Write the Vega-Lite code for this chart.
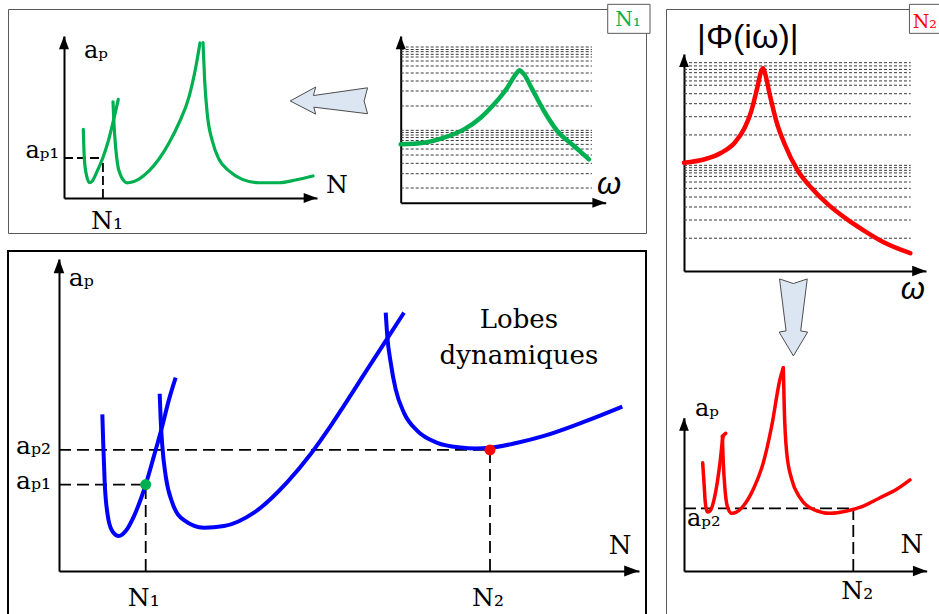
{
"$schema": "https://vega.github.io/schema/vega-lite/v6.json",
"padding": {"left": 7, "top": 1, "right": 0, "bottom": 0},
"background": "white",
"spacing": 12,
"config": {"view": {"stroke": null}},
"datasets": {
"green_lobes_small": [
{"lobe":1,"N":0.763,"ap":4.24},{"lobe":1,"N":0.802,"ap":2.49},{"lobe":1,"N":0.881,"ap":1.46},{"lobe":1,"N":1.016,"ap":0.94},{"lobe":1,"N":1.119,"ap":1.05},{"lobe":1,"N":1.316,"ap":1.67},{"lobe":1,"N":1.514,"ap":2.39},{"lobe":1,"N":1.751,"ap":3.52},{"lobe":1,"N":1.949,"ap":4.75},{"lobe":1,"N":2.146,"ap":6.09},
{"lobe":2,"N":1.937,"ap":5.94},{"lobe":2,"N":1.976,"ap":4.57},{"lobe":2,"N":2.036,"ap":3.21},{"lobe":2,"N":2.115,"ap":2.10},{"lobe":2,"N":2.233,"ap":1.42},{"lobe":2,"N":2.372,"ap":1.05},{"lobe":2,"N":2.490,"ap":0.93},{"lobe":2,"N":2.609,"ap":0.96},{"lobe":2,"N":2.964,"ap":1.17},{"lobe":2,"N":3.360,"ap":1.67},{"lobe":2,"N":3.755,"ap":2.41},{"lobe":2,"N":4.150,"ap":3.40},{"lobe":2,"N":4.545,"ap":4.63},{"lobe":2,"N":4.941,"ap":6.24},{"lobe":2,"N":5.217,"ap":8.15},{"lobe":2,"N":5.375,"ap":9.57},
{"lobe":3,"N":5.494,"ap":9.59},{"lobe":3,"N":5.561,"ap":7.22},{"lobe":3,"N":5.664,"ap":5.17},{"lobe":3,"N":5.862,"ap":3.52},{"lobe":3,"N":6.126,"ap":2.39},{"lobe":3,"N":6.522,"ap":1.67},{"lobe":3,"N":7.047,"ap":1.15},{"lobe":3,"N":7.708,"ap":0.94},{"lobe":3,"N":8.498,"ap":0.94},{"lobe":3,"N":9.158,"ap":1.11},{"lobe":3,"N":9.842,"ap":1.36}
],
"small_op": [{"N":1.54,"ap":2.47,"base":0}],
"green_frf": [{"omega":0,"mag":3.50},{"omega":1.137,"mag":3.60},{"omega":2.112,"mag":3.90},{"omega":3.088,"mag":4.40},{"omega":3.902,"mag":5.10},{"omega":4.551,"mag":5.90},{"omega":5.200,"mag":6.90},{"omega":5.610,"mag":7.70},{"omega":5.785,"mag":7.94},{"omega":6.015,"mag":7.70},{"omega":6.420,"mag":6.80},{"omega":6.990,"mag":5.50},{"omega":7.639,"mag":4.30},{"omega":8.454,"mag":3.40},{"omega":9.185,"mag":2.60}],
"green_levels": [{"mag":9.34,"from":0,"to":9.33},{"mag":9.19,"from":0,"to":9.33},{"mag":9.06,"from":0,"to":9.33},{"mag":8.90,"from":0,"to":9.33},{"mag":8.74,"from":0,"to":9.33},{"mag":8.50,"from":0,"to":9.33},{"mag":8.20,"from":0,"to":9.33},{"mag":7.78,"from":0,"to":9.33},{"mag":7.30,"from":0,"to":9.33},{"mag":6.70,"from":0,"to":9.33},{"mag":5.80,"from":0,"to":9.33},{"mag":4.34,"from":0,"to":9.33},{"mag":4.21,"from":0,"to":9.33},{"mag":4.06,"from":0,"to":9.33},{"mag":3.91,"from":0,"to":9.33},{"mag":3.73,"from":0,"to":9.33},{"mag":3.50,"from":0,"to":9.33},{"mag":3.22,"from":0,"to":9.33},{"mag":2.86,"from":0,"to":9.33},{"mag":2.36,"from":0,"to":9.33},{"mag":1.74,"from":0,"to":9.33},{"mag":0.88,"from":0,"to":9.33}],
"blue_lobes": [
{"lobe":1,"N":0.747,"ap":5.02},{"lobe":1,"N":0.764,"ap":4.01},{"lobe":1,"N":0.788,"ap":2.83},{"lobe":1,"N":0.833,"ap":1.87},{"lobe":1,"N":0.919,"ap":1.28},{"lobe":1,"N":1.034,"ap":1.12},{"lobe":1,"N":1.150,"ap":1.28},{"lobe":1,"N":1.293,"ap":1.76},{"lobe":1,"N":1.409,"ap":2.30},{"lobe":1,"N":1.495,"ap":2.77},{"lobe":1,"N":1.638,"ap":3.69},{"lobe":1,"N":1.781,"ap":4.65},{"lobe":1,"N":1.897,"ap":5.50},{"lobe":1,"N":2.012,"ap":6.20},
{"lobe":2,"N":1.736,"ap":5.68},{"lobe":2,"N":1.753,"ap":4.86},{"lobe":2,"N":1.781,"ap":4.01},{"lobe":2,"N":1.840,"ap":3.04},{"lobe":2,"N":1.953,"ap":2.19},{"lobe":2,"N":2.155,"ap":1.63},{"lobe":2,"N":2.500,"ap":1.39},{"lobe":2,"N":2.845,"ap":1.44},{"lobe":2,"N":3.362,"ap":1.87},{"lobe":2,"N":3.936,"ap":2.85},{"lobe":2,"N":4.340,"ap":3.75},{"lobe":2,"N":4.684,"ap":4.65},{"lobe":2,"N":4.914,"ap":5.30},{"lobe":2,"N":5.259,"ap":6.30},{"lobe":2,"N":5.603,"ap":7.29},{"lobe":2,"N":5.948,"ap":8.28},
{"lobe":3,"N":5.633,"ap":8.28},{"lobe":3,"N":5.660,"ap":7.53},{"lobe":3,"N":5.719,"ap":6.68},{"lobe":3,"N":5.805,"ap":5.82},{"lobe":3,"N":5.948,"ap":5.07},{"lobe":3,"N":6.178,"ap":4.49},{"lobe":3,"N":6.522,"ap":4.11},{"lobe":3,"N":6.926,"ap":3.96},{"lobe":3,"N":7.180,"ap":3.93},{"lobe":3,"N":7.431,"ap":3.95},{"lobe":3,"N":7.902,"ap":4.11},{"lobe":3,"N":8.362,"ap":4.33},{"lobe":3,"N":8.936,"ap":4.70},{"lobe":3,"N":9.712,"ap":5.27}
],
"blue_op": [{"case":"N1","N":1.495,"ap":2.77,"base":0,"ylab":"aₚ₁","xlab":"N₁"},{"case":"N2","N":7.431,"ap":3.88,"base":0,"ylab":"aₚ₂","xlab":"N₂"}],
"red_frf": [{"omega":0,"mag":4.99},{"omega":0.855,"mag":5.15},{"omega":1.541,"mag":5.45},{"omega":2.095,"mag":5.91},{"omega":2.508,"mag":6.60},{"omega":2.781,"mag":7.37},{"omega":3.029,"mag":8.45},{"omega":3.194,"mag":9.22},{"omega":3.264,"mag":9.34},{"omega":3.360,"mag":9.06},{"omega":3.541,"mag":8.14},{"omega":3.814,"mag":6.91},{"omega":4.161,"mag":5.84},{"omega":4.711,"mag":4.61},{"omega":5.260,"mag":3.84},{"omega":5.950,"mag":3.07},{"omega":6.640,"mag":2.46},{"omega":7.467,"mag":1.84},{"omega":8.293,"mag":1.30},{"omega":9.351,"mag":0.82}],
"red_levels": [{"mag":9.60,"from":0,"to":9.37},{"mag":9.45,"from":0,"to":9.37},{"mag":9.29,"from":0,"to":9.37},{"mag":9.14,"from":0,"to":9.37},{"mag":8.94,"from":0,"to":9.37},{"mag":8.76,"from":0,"to":9.37},{"mag":8.56,"from":0,"to":9.37},{"mag":8.17,"from":0,"to":9.37},{"mag":7.71,"from":0,"to":9.37},{"mag":7.11,"from":0,"to":9.37},{"mag":6.27,"from":0,"to":9.37},{"mag":4.87,"from":0,"to":9.37},{"mag":4.76,"from":0,"to":9.37},{"mag":4.64,"from":0,"to":9.37},{"mag":4.52,"from":0,"to":9.37},{"mag":4.36,"from":0,"to":9.37},{"mag":4.10,"from":0,"to":9.37},{"mag":3.81,"from":0,"to":9.37},{"mag":3.41,"from":0,"to":9.37},{"mag":2.95,"from":0,"to":9.37},{"mag":2.35,"from":0,"to":9.37},{"mag":1.51,"from":0,"to":9.37}],
"red_lobes": [
{"lobe":1,"N":0.770,"ap":7.06},{"lobe":1,"N":0.824,"ap":5.76},{"lobe":1,"N":0.878,"ap":4.46},{"lobe":1,"N":0.960,"ap":3.85},{"lobe":1,"N":1.071,"ap":3.91},{"lobe":1,"N":1.207,"ap":4.46},{"lobe":1,"N":1.347,"ap":5.54},{"lobe":1,"N":1.483,"ap":7.06},{"lobe":1,"N":1.619,"ap":8.81},{"lobe":1,"N":1.718,"ap":8.98},
{"lobe":2,"N":1.578,"ap":8.81},{"lobe":2,"N":1.619,"ap":7.06},{"lobe":2,"N":1.689,"ap":5.33},{"lobe":2,"N":1.801,"ap":4.13},{"lobe":2,"N":1.965,"ap":3.76},{"lobe":2,"N":2.171,"ap":3.85},{"lobe":2,"N":2.443,"ap":4.24},{"lobe":2,"N":2.855,"ap":5.33},{"lobe":2,"N":3.267,"ap":7.06},{"lobe":2,"N":3.614,"ap":9.46},{"lobe":2,"N":3.955,"ap":12.51},{"lobe":2,"N":4.091,"ap":13.26},
{"lobe":3,"N":4.092,"ap":13.26},{"lobe":3,"N":4.133,"ap":10.55},{"lobe":3,"N":4.232,"ap":7.72},{"lobe":3,"N":4.438,"ap":5.98},{"lobe":3,"N":4.780,"ap":4.78},{"lobe":3,"N":5.328,"ap":4.02},{"lobe":3,"N":6.016,"ap":3.76},{"lobe":3,"N":6.704,"ap":3.91},{"lobe":3,"N":7.388,"ap":4.24},{"lobe":3,"N":8.076,"ap":4.78},{"lobe":3,"N":8.764,"ap":5.33},{"lobe":3,"N":9.312,"ap":5.94}
],
"red_op": [{"N":6.976,"ap":4.09,"base":0}]
},
"hconcat": [
{
"vconcat": [
{
"width": 638, "height": 224,
"view": {"stroke": "#595959", "strokeWidth": 1},
"resolve": {"scale": {"x": "independent", "y": "independent"}},
"layer": [
{"data": {"name": "small_op"}, "mark": {"type": "rule", "color": "black", "strokeWidth": 1.8, "strokeDash": [9, 4]},
 "encoding": {"x": {"field": "base", "type": "quantitative", "scale": {"domain":[0,10],"range":[56,309],"nice":false,"zero":false}, "axis": null}, "x2": {"field": "N"}, "y": {"field": "ap", "type": "quantitative", "scale": {"domain":[0,10],"range":[189,27],"nice":false,"zero":false}, "axis": null}}},
{"data": {"name": "small_op"}, "mark": {"type": "rule", "color": "black", "strokeWidth": 1.8, "strokeDash": [9, 4]},
 "encoding": {"x": {"field": "N", "type": "quantitative", "scale": {"domain":[0,10],"range":[56,309],"nice":false,"zero":false}, "axis": null}, "y": {"field": "base", "type": "quantitative", "scale": {"domain":[0,10],"range":[189,27],"nice":false,"zero":false}, "axis": null}, "y2": {"field": "ap"}}},
{"data": {"name": "green_lobes_small"}, "mark": {"type": "line", "interpolate": "monotone", "color": "#00b050", "strokeWidth": 3.2, "strokeCap": "round"},
 "encoding": {"x": {"field": "N", "type": "quantitative", "scale": {"domain":[0,10],"range":[56,309],"nice":false,"zero":false}, "axis": {"orient": "bottom", "offset": -35, "domain": true, "domainColor": "black", "domainWidth": 2, "ticks": false, "labels": false, "grid": false, "title": null}}, "y": {"field": "ap", "type": "quantitative", "scale": {"domain":[0,10],"range":[189,27],"nice":false,"zero":false}, "axis": {"orient": "left", "offset": -56, "domain": true, "domainColor": "black", "domainWidth": 2, "ticks": false, "labels": false, "grid": false, "title": null}}, "detail": {"field": "lobe", "type": "nominal"}}},
{"data": {"values": [{}]}, "mark": {"type": "point", "shape": "M0,0L-2,-0.75L-2,0.75Z", "filled": true, "fill": "black", "strokeWidth": 0, "opacity": 1, "size": 178},
 "encoding": {"x": {"datum": 10, "type": "quantitative", "scale": {"domain":[0,10],"range":[56,309],"nice":false,"zero":false}, "axis": null}, "y": {"datum": 0, "type": "quantitative", "scale": {"domain":[0,10],"range":[189,27],"nice":false,"zero":false}, "axis": null}}},
{"data": {"values": [{}]}, "mark": {"type": "point", "shape": "M0,0L-0.75,2L0.75,2Z", "filled": true, "fill": "black", "strokeWidth": 0, "opacity": 1, "size": 178},
 "encoding": {"x": {"datum": 0, "type": "quantitative", "scale": {"domain":[0,10],"range":[56,309],"nice":false,"zero":false}, "axis": null}, "y": {"datum": 10, "type": "quantitative", "scale": {"domain":[0,10],"range":[189,27],"nice":false,"zero":false}, "axis": null}}},
{"data": {"values": [{}]}, "mark": {"type": "text", "text": "aₚ", "font": "DejaVu Serif", "fontSize": 24, "align": "left", "baseline": "alphabetic", "color": "black"},
 "encoding": {"x": {"datum": 0.79, "type": "quantitative", "scale": {"domain":[0,10],"range":[56,309],"nice":false,"zero":false}, "axis": null}, "y": {"datum": 8.64, "type": "quantitative", "scale": {"domain":[0,10],"range":[189,27],"nice":false,"zero":false}, "axis": null}}},
{"data": {"name": "small_op"}, "mark": {"type": "text", "text": "aₚ₁", "font": "DejaVu Serif", "fontSize": 24, "align": "right", "baseline": "alphabetic", "dx": -5, "color": "black"},
 "encoding": {"x": {"field": "base", "type": "quantitative", "scale": {"domain":[0,10],"range":[56,309],"nice":false,"zero":false}, "axis": null}, "y": {"field": "ap", "type": "quantitative", "scale": {"domain":[0,10],"range":[189,27],"nice":false,"zero":false}, "axis": null}}},
{"data": {"name": "small_op"}, "mark": {"type": "text", "text": "N₁", "font": "DejaVu Serif", "fontSize": 25, "align": "center", "baseline": "alphabetic", "dx": 4, "dy": 31, "color": "black"},
 "encoding": {"x": {"field": "N", "type": "quantitative", "scale": {"domain":[0,10],"range":[56,309],"nice":false,"zero":false}, "axis": null}, "y": {"field": "base", "type": "quantitative", "scale": {"domain":[0,10],"range":[189,27],"nice":false,"zero":false}, "axis": null}}},
{"data": {"values": [{}]}, "mark": {"type": "text", "text": "N", "font": "DejaVu Serif", "fontSize": 25, "align": "left", "baseline": "alphabetic", "color": "black"},
 "encoding": {"x": {"datum": 10.36, "type": "quantitative", "scale": {"domain":[0,10],"range":[56,309],"nice":false,"zero":false}, "axis": null}, "y": {"datum": 0.31, "type": "quantitative", "scale": {"domain":[0,10],"range":[189,27],"nice":false,"zero":false}, "axis": null}}},
{"data": {"values": [{}]}, "mark": {"type": "point", "shape": "M-1,0L-0.34,-0.36L-0.4,-0.14L1,-0.34L0.91,0L1,0.33L-0.39,0.16L-0.34,0.34Z", "filled": true, "fill": "#dce6f2", "stroke": "#4d4d4d", "strokeWidth": 1, "opacity": 1, "size": 5990},
 "encoding": {"x": {"datum": 10.47, "type": "quantitative", "scale": {"domain":[0,10],"range":[56,309],"nice":false,"zero":false}, "axis": null}, "y": {"datum": 5.99, "type": "quantitative", "scale": {"domain":[0,10],"range":[189,27],"nice":false,"zero":false}, "axis": null}}},
{"data": {"name": "green_levels"}, "mark": {"type": "rule", "color": "#3a3a3a", "strokeWidth": 1, "strokeDash": [3, 2]},
 "encoding": {"x": {"field": "from", "type": "quantitative", "scale": {"domain":[0,10],"range":[392.7,597.7],"nice":false,"zero":false}, "axis": null}, "x2": {"field": "to"}, "y": {"field": "mag", "type": "quantitative", "scale": {"domain":[0,10],"range":[193.7,27],"nice":false,"zero":false}, "axis": null}}},
{"data": {"name": "green_frf"}, "mark": {"type": "line", "interpolate": "monotone", "color": "#00b050", "strokeWidth": 4.5, "strokeCap": "round"},
 "encoding": {"x": {"field": "omega", "type": "quantitative", "scale": {"domain":[0,10],"range":[392.7,597.7],"nice":false,"zero":false}, "axis": {"orient": "bottom", "offset": -30.3, "domain": true, "domainColor": "black", "domainWidth": 2, "ticks": false, "labels": false, "grid": false, "title": null}}, "y": {"field": "mag", "type": "quantitative", "scale": {"domain":[0,10],"range":[193.7,27],"nice":false,"zero":false}, "axis": {"orient": "left", "offset": -392.7, "domain": true, "domainColor": "black", "domainWidth": 2, "ticks": false, "labels": false, "grid": false, "title": null}}}},
{"data": {"values": [{}]}, "mark": {"type": "point", "shape": "M0,0L-2,-0.75L-2,0.75Z", "filled": true, "fill": "black", "strokeWidth": 0, "opacity": 1, "size": 178},
 "encoding": {"x": {"datum": 10, "type": "quantitative", "scale": {"domain":[0,10],"range":[392.7,597.7],"nice":false,"zero":false}, "axis": null}, "y": {"datum": 0, "type": "quantitative", "scale": {"domain":[0,10],"range":[193.7,27],"nice":false,"zero":false}, "axis": null}}},
{"data": {"values": [{}]}, "mark": {"type": "point", "shape": "M0,0L-0.75,2L0.75,2Z", "filled": true, "fill": "black", "strokeWidth": 0, "opacity": 1, "size": 178},
 "encoding": {"x": {"datum": 0, "type": "quantitative", "scale": {"domain":[0,10],"range":[392.7,597.7],"nice":false,"zero":false}, "axis": null}, "y": {"datum": 10, "type": "quantitative", "scale": {"domain":[0,10],"range":[193.7,27],"nice":false,"zero":false}, "axis": null}}},
{"data": {"values": [{}]}, "mark": {"type": "text", "text": "ω", "font": "Liberation Sans", "fontStyle": "italic", "fontSize": 31, "align": "center", "baseline": "alphabetic", "color": "black"},
 "encoding": {"x": {"datum": 10.16, "type": "quantitative", "scale": {"domain":[0,10],"range":[392.7,597.7],"nice":false,"zero":false}, "axis": null}, "y": {"datum": 0.52, "type": "quantitative", "scale": {"domain":[0,10],"range":[193.7,27],"nice":false,"zero":false}, "axis": null}}},
{"data": {"values": [{}]}, "mark": {"type": "point", "shape": "M-1,-0.686L1,-0.686L1,0.686L-1,0.686Z", "filled": true, "fill": "white", "stroke": "#595959", "strokeWidth": 1, "opacity": 1, "size": 1789},
 "encoding": {"x": {"datum": 11.13, "type": "quantitative", "scale": {"domain":[0,10],"range":[392.7,597.7],"nice":false,"zero":false}, "axis": null}, "y": {"datum": 11.03, "type": "quantitative", "scale": {"domain":[0,10],"range":[193.7,27],"nice":false,"zero":false}, "axis": null}}},
{"data": {"values": [{}]}, "mark": {"type": "text", "text": "N₁", "font": "DejaVu Serif", "fontSize": 20, "align": "center", "baseline": "alphabetic", "color": "#00b050"},
 "encoding": {"x": {"datum": 11.09, "type": "quantitative", "scale": {"domain":[0,10],"range":[392.7,597.7],"nice":false,"zero":false}, "axis": null}, "y": {"datum": 10.60, "type": "quantitative", "scale": {"domain":[0,10],"range":[193.7,27],"nice":false,"zero":false}, "axis": null}}}
]
},
{
"width": 638, "height": 366,
"view": {"stroke": "black", "strokeWidth": 2},
"resolve": {"scale": {"x": "independent", "y": "independent"}},
"layer": [
{"data": {"name": "blue_op"}, "mark": {"type": "rule", "color": "black", "strokeWidth": 1.8, "strokeDash": [12, 6]},
 "encoding": {"x": {"field": "base", "type": "quantitative", "scale": {"domain":[0,10],"range":[51,631],"nice":false,"zero":false}, "axis": null}, "x2": {"field": "N"}, "y": {"field": "ap", "type": "quantitative", "scale": {"domain":[0,10],"range":[320,8],"nice":false,"zero":false}, "axis": null}}},
{"data": {"name": "blue_op"}, "mark": {"type": "rule", "color": "black", "strokeWidth": 1.8, "strokeDash": [12, 6]},
 "encoding": {"x": {"field": "N", "type": "quantitative", "scale": {"domain":[0,10],"range":[51,631],"nice":false,"zero":false}, "axis": null}, "y": {"field": "base", "type": "quantitative", "scale": {"domain":[0,10],"range":[320,8],"nice":false,"zero":false}, "axis": null}, "y2": {"field": "ap"}}},
{"data": {"name": "blue_lobes"}, "mark": {"type": "line", "interpolate": "monotone", "color": "#0000ff", "strokeWidth": 4, "strokeCap": "butt"},
 "encoding": {"x": {"field": "N", "type": "quantitative", "scale": {"domain":[0,10],"range":[51,631],"nice":false,"zero":false}, "axis": {"orient": "bottom", "offset": -46, "domain": true, "domainColor": "black", "domainWidth": 2, "ticks": false, "labels": false, "grid": false, "title": null}}, "y": {"field": "ap", "type": "quantitative", "scale": {"domain":[0,10],"range":[320,8],"nice":false,"zero":false}, "axis": {"orient": "left", "offset": -51, "domain": true, "domainColor": "black", "domainWidth": 2, "ticks": false, "labels": false, "grid": false, "title": null}}, "detail": {"field": "lobe", "type": "nominal"}}},
{"data": {"values": [{}]}, "mark": {"type": "point", "shape": "M0,0L-2,-0.75L-2,0.75Z", "filled": true, "fill": "black", "strokeWidth": 0, "opacity": 1, "size": 220},
 "encoding": {"x": {"datum": 10, "type": "quantitative", "scale": {"domain":[0,10],"range":[51,631],"nice":false,"zero":false}, "axis": null}, "y": {"datum": 0, "type": "quantitative", "scale": {"domain":[0,10],"range":[320,8],"nice":false,"zero":false}, "axis": null}}},
{"data": {"values": [{}]}, "mark": {"type": "point", "shape": "M0,0L-0.75,2L0.75,2Z", "filled": true, "fill": "black", "strokeWidth": 0, "opacity": 1, "size": 200},
 "encoding": {"x": {"datum": 0, "type": "quantitative", "scale": {"domain":[0,10],"range":[51,631],"nice":false,"zero":false}, "axis": null}, "y": {"datum": 10, "type": "quantitative", "scale": {"domain":[0,10],"range":[320,8],"nice":false,"zero":false}, "axis": null}}},
{"data": {"name": "blue_op"}, "mark": {"type": "circle", "size": 120, "opacity": 1},
 "encoding": {"x": {"field": "N", "type": "quantitative", "scale": {"domain":[0,10],"range":[51,631],"nice":false,"zero":false}, "axis": null}, "y": {"field": "ap", "type": "quantitative", "scale": {"domain":[0,10],"range":[320,8],"nice":false,"zero":false}, "axis": null}, "color": {"field": "case", "type": "nominal", "scale": {"domain": ["N1", "N2"], "range": ["#00b050", "#ff0000"]}, "legend": null}}},
{"data": {"name": "blue_op"}, "mark": {"type": "text", "font": "DejaVu Serif", "fontSize": 25, "align": "right", "baseline": "alphabetic", "dx": -8, "dy": 4, "color": "black"},
 "encoding": {"x": {"field": "base", "type": "quantitative", "scale": {"domain":[0,10],"range":[51,631],"nice":false,"zero":false}, "axis": null}, "y": {"field": "ap", "type": "quantitative", "scale": {"domain":[0,10],"range":[320,8],"nice":false,"zero":false}, "axis": null}, "text": {"field": "ylab", "type": "nominal"}}},
{"data": {"name": "blue_op"}, "mark": {"type": "text", "font": "DejaVu Serif", "fontSize": 25, "align": "center", "baseline": "alphabetic", "dx": -2, "dy": 35, "color": "black"},
 "encoding": {"x": {"field": "N", "type": "quantitative", "scale": {"domain":[0,10],"range":[51,631],"nice":false,"zero":false}, "axis": null}, "y": {"field": "base", "type": "quantitative", "scale": {"domain":[0,10],"range":[320,8],"nice":false,"zero":false}, "axis": null}, "text": {"field": "xlab", "type": "nominal"}}},
{"data": {"values": [{}]}, "mark": {"type": "text", "text": "aₚ", "font": "DejaVu Serif", "fontSize": 25, "align": "left", "baseline": "alphabetic", "color": "black"},
 "encoding": {"x": {"datum": 0.17, "type": "quantitative", "scale": {"domain":[0,10],"range":[51,631],"nice":false,"zero":false}, "axis": null}, "y": {"datum": 9.13, "type": "quantitative", "scale": {"domain":[0,10],"range":[320,8],"nice":false,"zero":false}, "axis": null}}},
{"data": {"values": [{}]}, "mark": {"type": "text", "text": "N", "font": "DejaVu Serif", "fontSize": 26, "align": "left", "baseline": "alphabetic", "color": "black"},
 "encoding": {"x": {"datum": 9.48, "type": "quantitative", "scale": {"domain":[0,10],"range":[51,631],"nice":false,"zero":false}, "axis": null}, "y": {"datum": 0.545, "type": "quantitative", "scale": {"domain":[0,10],"range":[320,8],"nice":false,"zero":false}, "axis": null}}},
{"data": {"values": [{}]}, "mark": {"type": "text", "text": ["Lobes", "dynamiques"], "lineHeight": 36, "font": "DejaVu Serif", "fontSize": 26, "align": "center", "baseline": "alphabetic", "color": "black"},
 "encoding": {"x": {"datum": 7.93, "type": "quantitative", "scale": {"domain":[0,10],"range":[51,631],"nice":false,"zero":false}, "axis": null}, "y": {"datum": 7.79, "type": "quantitative", "scale": {"domain":[0,10],"range":[320,8],"nice":false,"zero":false}, "axis": null}}}
]
}
],
"spacing": 18,
"bounds": "flush"
},
{
"width": 275, "height": 608,
"view": {"stroke": "#595959", "strokeWidth": 1},
"resolve": {"scale": {"x": "independent", "y": "independent"}},
"layer": [
{"data": {"name": "red_levels"}, "mark": {"type": "rule", "color": "#3a3a3a", "strokeWidth": 1, "strokeDash": [3, 2]},
 "encoding": {"x": {"field": "from", "type": "quantitative", "scale": {"domain":[0,10],"range":[18,260],"nice":false,"zero":false}, "axis": null}, "x2": {"field": "to"}, "y": {"field": "mag", "type": "quantitative", "scale": {"domain":[0,10],"range":[262,45],"nice":false,"zero":false}, "axis": null}}},
{"data": {"name": "red_frf"}, "mark": {"type": "line", "interpolate": "monotone", "color": "#ff0000", "strokeWidth": 4.5, "strokeCap": "round"},
 "encoding": {"x": {"field": "omega", "type": "quantitative", "scale": {"domain":[0,10],"range":[18,260],"nice":false,"zero":false}, "axis": {"orient": "bottom", "offset": -346, "domain": true, "domainColor": "black", "domainWidth": 2, "ticks": false, "labels": false, "grid": false, "title": null}}, "y": {"field": "mag", "type": "quantitative", "scale": {"domain":[0,10],"range":[262,45],"nice":false,"zero":false}, "axis": {"orient": "left", "offset": -18, "domain": true, "domainColor": "black", "domainWidth": 2, "ticks": false, "labels": false, "grid": false, "title": null}}}},
{"data": {"values": [{}]}, "mark": {"type": "point", "shape": "M0,0L-2,-0.75L-2,0.75Z", "filled": true, "fill": "black", "strokeWidth": 0, "opacity": 1, "size": 190},
 "encoding": {"x": {"datum": 10, "type": "quantitative", "scale": {"domain":[0,10],"range":[18,260],"nice":false,"zero":false}, "axis": null}, "y": {"datum": 0, "type": "quantitative", "scale": {"domain":[0,10],"range":[262,45],"nice":false,"zero":false}, "axis": null}}},
{"data": {"values": [{}]}, "mark": {"type": "point", "shape": "M0,0L-0.75,2L0.75,2Z", "filled": true, "fill": "black", "strokeWidth": 0, "opacity": 1, "size": 170},
 "encoding": {"x": {"datum": 0, "type": "quantitative", "scale": {"domain":[0,10],"range":[18,260],"nice":false,"zero":false}, "axis": null}, "y": {"datum": 10, "type": "quantitative", "scale": {"domain":[0,10],"range":[262,45],"nice":false,"zero":false}, "axis": null}}},
{"data": {"values": [{}]}, "mark": {"type": "text", "text": "|Φ(iω)|", "font": "Liberation Sans", "fontSize": 34, "align": "left", "baseline": "alphabetic", "color": "black"},
 "encoding": {"x": {"datum": 0.54, "type": "quantitative", "scale": {"domain":[0,10],"range":[18,260],"nice":false,"zero":false}, "axis": null}, "y": {"datum": 10.28, "type": "quantitative", "scale": {"domain":[0,10],"range":[262,45],"nice":false,"zero":false}, "axis": null}}},
{"data": {"values": [{}]}, "mark": {"type": "text", "text": "ω", "font": "Liberation Sans", "fontStyle": "italic", "fontSize": 31, "align": "center", "baseline": "alphabetic", "color": "black"},
 "encoding": {"x": {"datum": 9.46, "type": "quantitative", "scale": {"domain":[0,10],"range":[18,260],"nice":false,"zero":false}, "axis": null}, "y": {"datum": -1.29, "type": "quantitative", "scale": {"domain":[0,10],"range":[262,45],"nice":false,"zero":false}, "axis": null}}},
{"data": {"values": [{}]}, "mark": {"type": "point", "shape": "M-0.36,-1L0,-0.88L0.36,-1L0.19,0.35L0.37,0.38L0,1L-0.37,0.38L-0.19,0.35Z", "filled": true, "fill": "#dce6f2", "stroke": "#4d4d4d", "strokeWidth": 1, "opacity": 1, "size": 5929},
 "encoding": {"x": {"datum": 4.52, "type": "quantitative", "scale": {"domain":[0,10],"range":[18,260],"nice":false,"zero":false}, "axis": null}, "y": {"datum": -2.14, "type": "quantitative", "scale": {"domain":[0,10],"range":[262,45],"nice":false,"zero":false}, "axis": null}}},
{"data": {"values": [{}]}, "mark": {"type": "point", "shape": "M-1,-0.686L1,-0.686L1,0.686L-1,0.686Z", "filled": true, "fill": "white", "stroke": "#595959", "strokeWidth": 1, "opacity": 1, "size": 1789},
 "encoding": {"x": {"datum": 10.19, "type": "quantitative", "scale": {"domain":[0,10],"range":[18,260],"nice":false,"zero":false}, "axis": null}, "y": {"datum": 11.62, "type": "quantitative", "scale": {"domain":[0,10],"range":[262,45],"nice":false,"zero":false}, "axis": null}}},
{"data": {"values": [{}]}, "mark": {"type": "text", "text": "N₂", "font": "DejaVu Serif", "fontSize": 19, "align": "left", "baseline": "alphabetic", "color": "#ff0000"},
 "encoding": {"x": {"datum": 9.45, "type": "quantitative", "scale": {"domain":[0,10],"range":[18,260],"nice":false,"zero":false}, "axis": null}, "y": {"datum": 11.21, "type": "quantitative", "scale": {"domain":[0,10],"range":[262,45],"nice":false,"zero":false}, "axis": null}}},
{"data": {"name": "red_op"}, "mark": {"type": "rule", "color": "black", "strokeWidth": 1.8, "strokeDash": [12, 5]},
 "encoding": {"x": {"field": "base", "type": "quantitative", "scale": {"domain":[0,10],"range":[18,260.7],"nice":false,"zero":false}, "axis": null}, "x2": {"field": "N"}, "y": {"field": "ap", "type": "quantitative", "scale": {"domain":[0,10],"range":[562,408.7],"nice":false,"zero":false}, "axis": null}}},
{"data": {"name": "red_op"}, "mark": {"type": "rule", "color": "black", "strokeWidth": 1.8, "strokeDash": [12, 5]},
 "encoding": {"x": {"field": "N", "type": "quantitative", "scale": {"domain":[0,10],"range":[18,260.7],"nice":false,"zero":false}, "axis": null}, "y": {"field": "base", "type": "quantitative", "scale": {"domain":[0,10],"range":[562,408.7],"nice":false,"zero":false}, "axis": null}, "y2": {"field": "ap"}}},
{"data": {"name": "red_lobes"}, "mark": {"type": "line", "interpolate": "monotone", "color": "#ff0000", "strokeWidth": 3.5, "strokeCap": "round"},
 "encoding": {"x": {"field": "N", "type": "quantitative", "scale": {"domain":[0,10],"range":[18,260.7],"nice":false,"zero":false}, "axis": {"orient": "bottom", "offset": -46, "domain": true, "domainColor": "black", "domainWidth": 2, "ticks": false, "labels": false, "grid": false, "title": null}}, "y": {"field": "ap", "type": "quantitative", "scale": {"domain":[0,10],"range":[562,408.7],"nice":false,"zero":false}, "axis": {"orient": "left", "offset": -18, "domain": true, "domainColor": "black", "domainWidth": 2, "ticks": false, "labels": false, "grid": false, "title": null}}, "detail": {"field": "lobe", "type": "nominal"}}},
{"data": {"values": [{}]}, "mark": {"type": "point", "shape": "M0,0L-2,-0.75L-2,0.75Z", "filled": true, "fill": "black", "strokeWidth": 0, "opacity": 1, "size": 190},
 "encoding": {"x": {"datum": 10, "type": "quantitative", "scale": {"domain":[0,10],"range":[18,260.7],"nice":false,"zero":false}, "axis": null}, "y": {"datum": 0, "type": "quantitative", "scale": {"domain":[0,10],"range":[562,408.7],"nice":false,"zero":false}, "axis": null}}},
{"data": {"values": [{}]}, "mark": {"type": "point", "shape": "M0,0L-0.75,2L0.75,2Z", "filled": true, "fill": "black", "strokeWidth": 0, "opacity": 1, "size": 170},
 "encoding": {"x": {"datum": 0, "type": "quantitative", "scale": {"domain":[0,10],"range":[18,260.7],"nice":false,"zero":false}, "axis": null}, "y": {"datum": 10, "type": "quantitative", "scale": {"domain":[0,10],"range":[562,408.7],"nice":false,"zero":false}, "axis": null}}},
{"data": {"values": [{}]}, "mark": {"type": "text", "text": "aₚ", "font": "DejaVu Serif", "fontSize": 24, "align": "left", "baseline": "alphabetic", "color": "black"},
 "encoding": {"x": {"datum": 0.45, "type": "quantitative", "scale": {"domain":[0,10],"range":[18,260.7],"nice":false,"zero":false}, "axis": null}, "y": {"datum": 10.1, "type": "quantitative", "scale": {"domain":[0,10],"range":[562,408.7],"nice":false,"zero":false}, "axis": null}}},
{"data": {"name": "red_op"}, "mark": {"type": "text", "text": "aₚ₂", "font": "DejaVu Serif", "fontSize": 24, "align": "left", "baseline": "alphabetic", "dx": 3, "dy": 18, "color": "black"},
 "encoding": {"x": {"field": "base", "type": "quantitative", "scale": {"domain":[0,10],"range":[18,260.7],"nice":false,"zero":false}, "axis": null}, "y": {"field": "ap", "type": "quantitative", "scale": {"domain":[0,10],"range":[562,408.7],"nice":false,"zero":false}, "axis": null}}},
{"data": {"values": [{}]}, "mark": {"type": "text", "text": "N", "font": "DejaVu Serif", "fontSize": 26, "align": "center", "baseline": "alphabetic", "color": "black"},
 "encoding": {"x": {"datum": 9.39, "type": "quantitative", "scale": {"domain":[0,10],"range":[18,260.7],"nice":false,"zero":false}, "axis": null}, "y": {"datum": 1.17, "type": "quantitative", "scale": {"domain":[0,10],"range":[562,408.7],"nice":false,"zero":false}, "axis": null}}},
{"data": {"name": "red_op"}, "mark": {"type": "text", "text": "N₂", "font": "DejaVu Serif", "fontSize": 25, "align": "center", "baseline": "alphabetic", "dx": 4, "dy": 28, "color": "black"},
 "encoding": {"x": {"field": "N", "type": "quantitative", "scale": {"domain":[0,10],"range":[18,260.7],"nice":false,"zero":false}, "axis": null}, "y": {"field": "base", "type": "quantitative", "scale": {"domain":[0,10],"range":[562,408.7],"nice":false,"zero":false}, "axis": null}}}
]
}
]
}
